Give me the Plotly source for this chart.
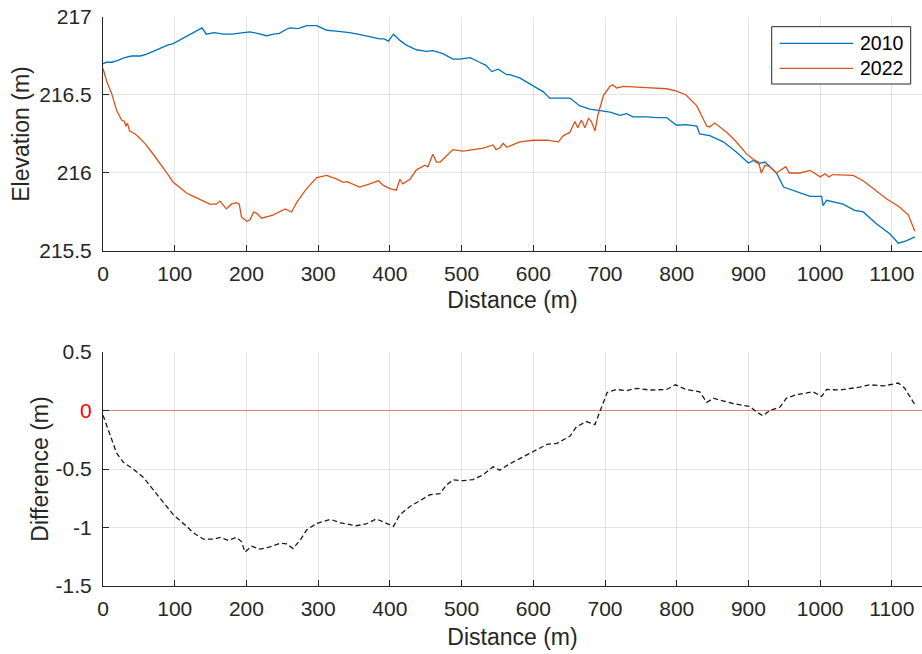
import plotly.graph_objects as go

# ---- 2010 profile ----
dist_2010 = [0, 5, 12, 20, 30, 40, 52, 60, 70, 80, 90, 98, 110, 120, 130, 138, 144, 155, 168, 180,
             196, 205, 215, 228, 238, 246, 255, 261, 272, 284, 298, 312, 325, 335, 344, 355, 368, 378,
             386, 392, 398, 405, 414, 423, 437, 451, 460, 474, 488, 497, 512, 525, 534, 542, 551, 563,
             567, 581, 600, 614, 623, 637, 651, 665, 679, 693, 707, 721, 730, 739, 758, 772, 786, 790,
             800, 813, 828, 832, 846, 865, 883, 900, 907, 914, 923, 930, 939, 949, 967, 986, 1002,
             1004, 1009, 1032, 1048, 1060, 1078, 1097, 1109, 1120, 1132]
elev_2010 = [216.70, 216.71, 216.71, 216.72, 216.74, 216.75, 216.75, 216.76, 216.78, 216.80, 216.82,
             216.83, 216.86, 216.88, 216.91, 216.93, 216.89, 216.90, 216.89, 216.89, 216.90, 216.905,
             216.895, 216.88, 216.89, 216.895, 216.92, 216.93, 216.925, 216.945, 216.945, 216.915,
             216.91, 216.905, 216.90, 216.89, 216.876, 216.87, 216.86, 216.86, 216.845, 216.89, 216.85,
             216.82, 216.79, 216.78, 216.785, 216.765, 216.73, 216.73, 216.74, 216.71, 216.69, 216.65,
             216.665, 216.63, 216.63, 216.61, 216.56, 216.52, 216.48, 216.48, 216.48, 216.43, 216.41,
             216.40, 216.39, 216.37, 216.38, 216.36, 216.36, 216.355, 216.355, 216.34, 216.306, 216.31,
             216.30, 216.25, 216.24, 216.20, 216.135, 216.064, 216.08, 216.06, 216.07, 216.04, 216.00,
             215.91, 215.88, 215.85, 215.85, 215.79, 215.825, 215.80, 215.76, 215.75, 215.676, 215.61,
             215.55, 215.565, 215.59]

# ---- 2022 profile ----
dist_2022 = [0, 5, 12, 19, 26, 30, 32, 34, 37, 45, 52, 60, 70, 80, 89, 98, 108, 117, 126, 135, 149,
             158, 163, 172, 179, 186, 190, 193, 200, 205, 210, 215, 221, 237, 254, 263, 270, 279, 284,
             298, 312, 326, 335, 340, 349, 358, 372, 384, 391, 400, 409, 414, 418, 428, 437, 449, 453,
             460, 465, 470, 479, 488, 502, 516, 530, 544, 548, 553, 558, 563, 581, 600, 619, 635, 642,
             651, 658, 662, 667, 672, 677, 681, 686, 690, 698, 707, 711, 716, 726, 758, 786, 800, 813,
             828, 835, 842, 846, 853, 870, 883, 897, 907, 914, 918, 923, 930, 939, 946, 952, 957, 972,
             986, 1000, 1007, 1012, 1018, 1046, 1060, 1074, 1092, 1111, 1123, 1132]
elev_2022 = [216.67, 216.59, 216.51, 216.40, 216.34, 216.33, 216.30, 216.32, 216.27, 216.25, 216.22,
             216.18, 216.12, 216.06, 216.00, 215.94, 215.90, 215.87, 215.85, 215.83, 215.80, 215.80,
             215.82, 215.77, 215.80, 215.81, 215.80, 215.72, 215.69, 215.70, 215.75, 215.74, 215.71,
             215.73, 215.77, 215.75, 215.81, 215.87, 215.90, 215.97, 215.985, 215.96, 215.94, 215.945,
             215.93, 215.91, 215.93, 215.95, 215.92, 215.90, 215.89, 215.96, 215.93, 215.96, 216.02,
             216.05, 216.04, 216.12, 216.07, 216.07, 216.11, 216.15, 216.14, 216.15, 216.16, 216.18,
             216.15, 216.16, 216.19, 216.165, 216.20, 216.21, 216.21, 216.20, 216.24, 216.26, 216.33,
             216.29, 216.34, 216.29, 216.35, 216.33, 216.27, 216.37, 216.50, 216.556, 216.565, 216.545,
             216.555, 216.547, 216.54, 216.525, 216.50, 216.43, 216.36, 216.30, 216.295, 216.32, 216.26,
             216.20, 216.124, 216.086, 216.07, 216.00, 216.05, 216.04, 216.00, 216.02, 216.04, 216.00,
             216.00, 216.017, 215.975, 215.995, 215.975, 215.99, 215.985, 215.95, 215.90, 215.836,
             215.78, 215.73, 215.627]

# ---- difference profile ----
dist_diff = [0, 10, 19, 28, 42, 56, 70, 84, 98, 112, 126, 140, 154, 163, 175, 186, 193, 198, 207, 219,
             233, 247, 256, 265, 275, 284, 298, 317, 331, 353, 367, 381, 393, 405, 414, 428, 442, 456,
             470, 479, 488, 502, 516, 530, 544, 553, 567, 581, 600, 619, 633, 651, 660, 674, 686, 693,
             703, 716, 730, 744, 762, 786, 798, 813, 832, 842, 851, 878, 902, 911, 920, 930, 944, 953,
             967, 990, 1002, 1009, 1027, 1055, 1069, 1088, 1109, 1118, 1125, 1132]
diff_vals = [-0.04, -0.22, -0.365, -0.44, -0.50, -0.57, -0.68, -0.79, -0.89, -0.965, -1.045, -1.10,
             -1.10, -1.085, -1.11, -1.085, -1.12, -1.21, -1.16, -1.185, -1.165, -1.135, -1.14, -1.18,
             -1.107, -1.02, -0.965, -0.93, -0.96, -0.985, -0.97, -0.927, -0.96, -0.99, -0.89, -0.82,
             -0.77, -0.72, -0.71, -0.636, -0.593, -0.60, -0.59, -0.55, -0.48, -0.51, -0.456, -0.41,
             -0.35, -0.29, -0.28, -0.22, -0.14, -0.094, -0.12, 0.0, 0.154, 0.18, 0.17, 0.19, 0.175,
             0.18, 0.22, 0.18, 0.16, 0.07, 0.105, 0.06, 0.034, -0.01, -0.045, 0.0, 0.03, 0.106, 0.135,
             0.16, 0.12, 0.18, 0.175, 0.2, 0.22, 0.21, 0.235, 0.19, 0.12, 0.05]

series_names = ["2010", "2022"]
series_colors = ["#0072BD", "#D95319"]

x_ticks = [0, 100, 200, 300, 400, 500, 600, 700, 800, 900, 1000, 1100]
top_ticks = [215.5, 216, 216.5, 217]
top_tick_text = ["215.5", "216", "216.5", "217"]
bot_ticks = [-1.5, -1, -0.5, 0, 0.5]
bot_tick_text = ["-1.5", "-1", "-0.5", '<span style="color:#ff0000">0</span>', "0.5"]

TXT = "#262626"
GRID = "rgba(38,38,38,0.12)"
FONT = "Liberation Sans, Arial, Helvetica, sans-serif"

fig = go.Figure()
fig.add_trace(go.Scatter(x=dist_2010, y=elev_2010, mode="lines", name=series_names[0], showlegend=False,
                         line=dict(color=series_colors[0], width=1.3), xaxis="x", yaxis="y"))
fig.add_trace(go.Scatter(x=dist_2022, y=elev_2022, mode="lines", name=series_names[1], showlegend=False,
                         line=dict(color=series_colors[1], width=1.3), xaxis="x", yaxis="y"))
fig.add_trace(go.Scatter(x=dist_diff, y=diff_vals, mode="lines", showlegend=False,
                         line=dict(color="#1a1a1a", width=1.3, dash="5px,3px"),
                         xaxis="x2", yaxis="y2"))

axis_common = dict(showline=True, linecolor=TXT, linewidth=1, ticks="inside", ticklen=6,
                   tickcolor=TXT, showgrid=True, gridcolor=GRID, gridwidth=1, zeroline=False,
                   tickfont=dict(family=FONT, size=21, color=TXT), mirror=False)

fig.update_layout(
    width=922, height=654,
    margin=dict(l=103, r=0, t=17, b=68),
    plot_bgcolor="white", paper_bgcolor="white",
    font=dict(family=FONT, color=TXT),
    showlegend=False,
    xaxis=dict(domain=[0, 1], range=[0, 1142], tickvals=x_ticks, anchor="y",
               title=dict(text="Distance (m)", font=dict(family=FONT, size=23, color=TXT), standoff=7),
               ticklabelstandoff=4, **axis_common),
    yaxis=dict(domain=[0.5888, 1], range=[215.5, 217], tickvals=top_ticks, ticktext=top_tick_text,
               anchor="x",
               title=dict(text="Elevation (m)", font=dict(family=FONT, size=23, color=TXT), standoff=3),
               ticklabelstandoff=6, **axis_common),
    xaxis2=dict(domain=[0, 1], range=[0, 1142], tickvals=x_ticks, anchor="y2",
                title=dict(text="Distance (m)", font=dict(family=FONT, size=23, color=TXT), standoff=9),
                ticklabelstandoff=4, **axis_common),
    yaxis2=dict(domain=[0, 0.4112], range=[-1.5, 0.5], tickvals=bot_ticks, ticktext=bot_tick_text,
                anchor="x2",
                title=dict(text="Difference (m)", font=dict(family=FONT, size=23, color=TXT), standoff=0),
                ticklabelstandoff=6, **axis_common),
)

fig.add_shape(type="line", xref="x2 domain", yref="y2", x0=0, x1=1, y0=0, y1=0,
              line=dict(color="rgba(255,0,0,0.45)", width=1.2), layer="below")

# ---- legend box (drawn manually to match the MATLAB legend) ----
fig.add_shape(type="rect", xref="paper", yref="paper", x0=0.8165, x1=0.9862, y0=0.8822, y1=0.9830,
              line=dict(color=TXT, width=1), fillcolor="white", layer="above")
legend_rows_y = [0.9538, 0.9098]
for name, color, ry in zip(series_names, series_colors, legend_rows_y):
    fig.add_shape(type="line", xref="paper", yref="paper", x0=0.8266, x1=0.9158, y0=ry, y1=ry,
                  line=dict(color=color, width=1.3), layer="above")
    fig.add_annotation(xref="paper", yref="paper", x=0.9215, y=ry, xanchor="left", yanchor="middle",
                       text=name, showarrow=False, font=dict(family=FONT, size=19.5, color="#000000"))

fig.write_html("out.html")
